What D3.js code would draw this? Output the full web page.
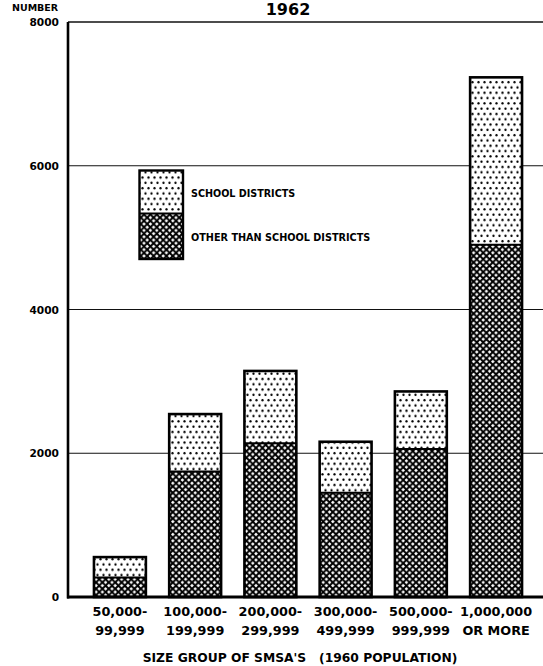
<!DOCTYPE html>
<html lang="en">
  <head>
    <meta charset="UTF-8" />
    <title>1962 - number of governments by size group of SMSA</title>
    <script src="https://cdn.jsdelivr.net/npm/d3@7"></script>
    <style>
      html, body { margin: 0; padding: 0; background: #fff; }
      svg text { font-family: "DejaVu Sans", sans-serif; font-weight: bold; fill: #000; }
    </style>
  </head>
  <body>
    <svg id="chart"></svg>
    <script>
      // size groups (two label lines each)
      const sizeGroups = ["50-99", "100-199", "200-299", "300-499", "500-999", "1000+"];
      const groupLine1 = ["50,000-", "100,000-", "200,000-", "300,000-", "500,000-", "1,000,000"];
      const groupLine2 = ["99,999", "199,999", "299,999", "499,999", "999,999", "OR MORE"];

      // stacked values
      const otherThanSchool = [270, 1745, 2140, 1450, 2060, 4900];
      const schoolDistricts = [285, 800, 1005, 710, 800, 2330];

      const yTicks = [0, 2000, 4000, 6000, 8000];

      const W = 543, H = 666;
      const svg = d3.select("#chart").attr("width", W).attr("height", H);

      const x = d3.scaleBand()
        .domain(sizeGroups)
        .range([82.3, 533.7])
        .paddingInner(0.31)
        .paddingOuter(0.155);

      const y = d3.scaleLinear().domain([0, 8000]).range([597, 22]);

      // patterns
      const defs = svg.append("defs");
      const dots = defs.append("pattern")
        .attr("id", "dots")
        .attr("patternUnits", "userSpaceOnUse")
        .attr("width", 6).attr("height", 10.6);
      dots.append("rect").attr("width", 6).attr("height", 10.6).attr("fill", "#fff");
      dots.append("circle").attr("cx", 1.5).attr("cy", 2.6).attr("r", 1.15).attr("fill", "#000");
      dots.append("circle").attr("cx", 4.5).attr("cy", 7.9).attr("r", 1.15).attr("fill", "#000");

      const p = 6.4;
      const hatch = defs.append("pattern")
        .attr("id", "hatch")
        .attr("patternUnits", "userSpaceOnUse")
        .attr("width", p).attr("height", p);
      hatch.append("rect").attr("width", p).attr("height", p).attr("fill", "#fff");
      hatch.append("path")
        .attr("d", `M-1,-1 L${p + 1},${p + 1} M${p + 1},-1 L-1,${p + 1}`)
        .attr("stroke", "#000")
        .attr("stroke-width", 2);

      // title sits right at the top edge
      svg.append("text")
        .attr("x", 288).attr("y", 15)
        .attr("text-anchor", "middle")
        .attr("font-size", 16)
        .text("1962");

      svg.append("text")
        .attr("x", 12).attr("y", 11)
        .attr("font-size", 9.5)
        .text("NUMBER");

      // gridlines (top one is the frame)
      svg.append("g")
        .selectAll("line")
        .data(yTicks.slice(1))
        .join("line")
        .attr("x1", 68).attr("x2", W)
        .attr("y1", d => y(d)).attr("y2", d => y(d))
        .attr("stroke", "#111")
        .attr("stroke-width", d => (d === 8000 ? 1.6 : 1.1));

      // y tick labels
      svg.append("g")
        .selectAll("text")
        .data(yTicks)
        .join("text")
        .attr("x", 59)
        .attr("y", d => y(d) + 4)
        .attr("text-anchor", "end")
        .attr("font-size", 10.6)
        .text(d => d);

      // bars
      const bars = svg.append("g");
      sizeGroups.forEach((g, i) => {
        const x0 = x(g), bw = x.bandwidth();
        const o = otherThanSchool[i], s = schoolDistricts[i];
        bars.append("rect")
          .attr("x", x0).attr("width", bw)
          .attr("y", y(o)).attr("height", y(0) - y(o))
          .attr("fill", "url(#hatch)");
        bars.append("rect")
          .attr("x", x0).attr("width", bw)
          .attr("y", y(o + s)).attr("height", y(o) - y(o + s))
          .attr("fill", "url(#dots)");
        bars.append("line")
          .attr("x1", x0).attr("x2", x0 + bw)
          .attr("y1", y(o)).attr("y2", y(o))
          .attr("stroke", "#000").attr("stroke-width", 2);
        bars.append("rect")
          .attr("x", x0).attr("width", bw)
          .attr("y", y(o + s)).attr("height", y(0) - y(o + s))
          .attr("fill", "none")
          .attr("stroke", "#000").attr("stroke-width", 2.6);
      });

      // axes lines
      svg.append("line")
        .attr("x1", 68).attr("x2", 68)
        .attr("y1", y(8000)).attr("y2", y(0) + 1.5)
        .attr("stroke", "#000").attr("stroke-width", 2.6);
      svg.append("line")
        .attr("x1", 67).attr("x2", W)
        .attr("y1", y(0)).attr("y2", y(0))
        .attr("stroke", "#000").attr("stroke-width", 3.2);

      // x labels
      const xl = svg.append("g");
      sizeGroups.forEach((g, i) => {
        const cx = x(g) + x.bandwidth() / 2;
        xl.append("text").attr("x", cx).attr("y", 616)
          .attr("text-anchor", "middle").attr("font-size", 12.8)
          .text(groupLine1[i]);
        xl.append("text").attr("x", cx).attr("y", 634.5)
          .attr("text-anchor", "middle").attr("font-size", 12.8)
          .text(groupLine2[i]);
      });

      svg.append("text")
        .attr("x", 300).attr("y", 661.5)
        .attr("text-anchor", "middle")
        .attr("font-size", 12.3)
        .attr("xml:space", "preserve")
        .text("SIZE GROUP OF SMSA'S   (1960 POPULATION)");

      // legend
      const lg = svg.append("g");
      lg.append("rect").attr("x", 139.5).attr("y", 170.5).attr("width", 43.5).attr("height", 43)
        .attr("fill", "url(#dots)");
      lg.append("rect").attr("x", 139.5).attr("y", 213.5).attr("width", 43.5).attr("height", 45.5)
        .attr("fill", "url(#hatch)");
      lg.append("line").attr("x1", 139.5).attr("x2", 183).attr("y1", 213.5).attr("y2", 213.5)
        .attr("stroke", "#000").attr("stroke-width", 2);
      lg.append("rect").attr("x", 139.5).attr("y", 170.5).attr("width", 43.5).attr("height", 88.5)
        .attr("fill", "none").attr("stroke", "#000").attr("stroke-width", 2.4);
      lg.append("text").attr("x", 191).attr("y", 196.5).attr("font-size", 9.6)
        .text("SCHOOL DISTRICTS");
      lg.append("text").attr("x", 191).attr("y", 240.5).attr("font-size", 9.7)
        .text("OTHER THAN SCHOOL DISTRICTS");
    </script>
  </body>
</html>
